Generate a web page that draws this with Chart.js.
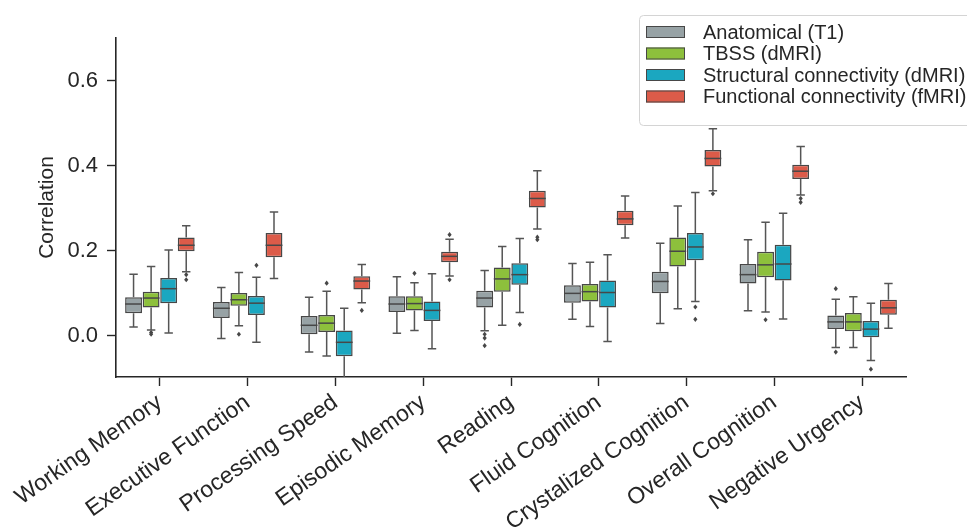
<!DOCTYPE html>
<html>
<head>
<meta charset="utf-8">
<script src="https://cdn.jsdelivr.net/npm/chart.js@4.4.1/dist/chart.umd.min.js"></script>
<style>
  html, body { margin: 0; padding: 0; background: #fff; }
  #wrap { width: 967px; height: 527px; }
</style>
</head>
<body>
<div id="wrap"><canvas id="myChart"></canvas></div>
<script>
const categories = ['Working Memory', 'Executive Function', 'Processing Speed', 'Episodic Memory',
    'Reading', 'Fluid Cognition', 'Crystalized Cognition', 'Overall Cognition', 'Negative Urgency'];

// per category: [lower whisker, q1, median, q3, upper whisker]
const anatomical = [
    [0.021, 0.053, 0.075, 0.091, 0.145],
    [-0.006, 0.042, 0.065, 0.080, 0.114],
    [-0.038, 0.004, 0.025, 0.047, 0.091],
    [0.006, 0.056, 0.075, 0.093, 0.139],
    [0.012, 0.067, 0.089, 0.106, 0.154],
    [0.039, 0.078, 0.100, 0.119, 0.170],
    [0.029, 0.100, 0.128, 0.151, 0.218],
    [0.059, 0.123, 0.144, 0.169, 0.226],
    [-0.027, 0.016, 0.033, 0.048, 0.086]
];
const anatomicalFliers = [[], [], [], [], [0.004, -0.005, -0.023], [], [], [], [0.111, -0.038]];

const tbss = [
    [0.014, 0.067, 0.089, 0.104, 0.163],
    [0.024, 0.071, 0.085, 0.101, 0.149],
    [-0.047, 0.009, 0.030, 0.049, 0.105],
    [0.013, 0.060, 0.076, 0.093, 0.125],
    [0.025, 0.104, 0.134, 0.161, 0.210],
    [0.022, 0.081, 0.104, 0.122, 0.173],
    [0.064, 0.163, 0.199, 0.231, 0.305],
    [0.056, 0.138, 0.167, 0.198, 0.267],
    [-0.027, 0.011, 0.033, 0.054, 0.092]
];
const tbssFliers = [[0.008, 0.004], [0.004], [0.124], [0.147], [], [], [], [0.038], []];

const structural = [
    [0.007, 0.077, 0.111, 0.136, 0.202],
    [-0.015, 0.049, 0.077, 0.094, 0.138],
    [-0.130, -0.048, -0.015, 0.013, 0.065],
    [-0.030, 0.035, 0.060, 0.081, 0.146],
    [0.055, 0.120, 0.144, 0.171, 0.229],
    [-0.013, 0.067, 0.102, 0.130, 0.191],
    [0.081, 0.178, 0.209, 0.242, 0.337],
    [0.040, 0.130, 0.169, 0.214, 0.288],
    [-0.058, -0.003, 0.016, 0.035, 0.077]
];
const structuralFliers = [[], [0.166], [], [], [0.027], [], [0.068, 0.039], [], [-0.078]];

const functional = [
    [0.151, 0.199, 0.213, 0.231, 0.259],
    [0.135, 0.185, 0.213, 0.242, 0.291],
    [0.078, 0.109, 0.129, 0.140, 0.168],
    [0.141, 0.173, 0.187, 0.198, 0.227],
    [0.251, 0.302, 0.323, 0.341, 0.388],
    [0.230, 0.260, 0.275, 0.294, 0.329],
    [0.341, 0.398, 0.417, 0.437, 0.487],
    [0.331, 0.369, 0.387, 0.402, 0.445],
    [0.018, 0.050, 0.066, 0.085, 0.123]
];
const functionalFliers = [[0.144, 0.132], [], [0.060], [0.238, 0.132], [0.232, 0.226], [], [0.334], [0.323, 0.314], []];

const yTicks = [0.0, 0.2, 0.4, 0.6];

const series = [
    { label: 'Anatomical (T1)', color: '#97a2a5', boxes: anatomical, fliers: anatomicalFliers },
    { label: 'TBSS (dMRI)', color: '#8dc03c', boxes: tbss, fliers: tbssFliers },
    { label: 'Structural connectivity (dMRI)', color: '#1ba7c0', boxes: structural, fliers: structuralFliers },
    { label: 'Functional connectivity (fMRI)', color: '#dc5b49', boxes: functional, fliers: functionalFliers }
];

const ink = '#262626';
const edge = '#474747';
const fontFamily = "'Liberation Sans', Arial, sans-serif";

// whiskers, caps, medians and fliers on top of the floating bars
const boxWhiskers = {
    id: 'boxWhiskers',
    afterDatasetsDraw(chart) {
        const { ctx, chartArea, scales: { y } } = chart;
        ctx.save();
        ctx.beginPath();
        ctx.rect(chartArea.left, chartArea.top, chartArea.right - chartArea.left, chartArea.bottom - chartArea.top);
        ctx.clip();
        ctx.fillStyle = edge;
        series.forEach((s, i) => {
            chart.getDatasetMeta(i).data.forEach((bar, j) => {
                const { x, width } = bar.getProps(['x', 'width'], true);
                const [lo, q1, med, q3, hi] = s.boxes[j];
                const half = width / 2;
                const cap = width / 4;
                ctx.strokeStyle = '#555';
                ctx.lineWidth = 1.5;
                ctx.beginPath();
                ctx.moveTo(x, y.getPixelForValue(q3));
                ctx.lineTo(x, y.getPixelForValue(hi));
                ctx.moveTo(x - cap, y.getPixelForValue(hi));
                ctx.lineTo(x + cap, y.getPixelForValue(hi));
                ctx.moveTo(x, y.getPixelForValue(q1));
                ctx.lineTo(x, y.getPixelForValue(lo));
                ctx.moveTo(x - cap, y.getPixelForValue(lo));
                ctx.lineTo(x + cap, y.getPixelForValue(lo));
                ctx.stroke();
                ctx.strokeStyle = edge;
                ctx.beginPath();
                ctx.moveTo(x - half, y.getPixelForValue(med));
                ctx.lineTo(x + half, y.getPixelForValue(med));
                ctx.stroke();
                s.fliers[j].forEach(v => {
                    const py = y.getPixelForValue(v);
                    ctx.beginPath();
                    ctx.moveTo(x, py - 2.6);
                    ctx.lineTo(x + 2.1, py);
                    ctx.lineTo(x, py + 2.6);
                    ctx.lineTo(x - 2.1, py);
                    ctx.closePath();
                    ctx.fill();
                });
            });
        });
        ctx.restore();
    }
};

// legend box in the upper right, running off the canvas edge
const cornerLegend = {
    id: 'cornerLegend',
    afterDraw(chart) {
        const { ctx } = chart;
        const left = 639, top = 15, rowH = 21.5;
        ctx.save();
        ctx.fillStyle = 'rgba(255,255,255,0.85)';
        ctx.strokeStyle = '#d4d4d4';
        ctx.lineWidth = 1;
        ctx.beginPath();
        ctx.roundRect(left + 0.5, top + 0.5, 360, 110, 4);
        ctx.fill();
        ctx.stroke();
        ctx.font = '20px ' + fontFamily;
        ctx.textBaseline = 'middle';
        series.forEach((s, i) => {
            const cy = top + 17 + i * rowH;
            ctx.fillStyle = s.color;
            ctx.fillRect(646, cy - 6, 39, 12);
            ctx.strokeStyle = edge;
            ctx.strokeRect(646.5, cy - 5.5, 38, 11);
            ctx.fillStyle = ink;
            ctx.fillText(s.label, 703, cy + 1);
        });
        ctx.restore();
    }
};

const ctx = document.getElementById('myChart').getContext('2d');
new Chart(ctx, {
    type: 'bar',
    data: {
        labels: categories,
        datasets: series.map(s => ({
            label: s.label,
            data: s.boxes.map(b => [b[1], b[3]]),
            backgroundColor: s.color,
            borderColor: edge,
            borderWidth: 1.5,
            borderSkipped: false,
            categoryPercentage: 0.8,
            barPercentage: 0.96
        }))
    },
    options: {
        responsive: true,
        maintainAspectRatio: false,
        animation: false,
        devicePixelRatio: 1,
        layout: { padding: { top: 38, right: 61, left: 0, bottom: 0 } },
        plugins: {
            legend: { display: false },
            tooltip: { enabled: false }
        },
        scales: {
            x: {
                offset: true,
                grid: { offset: false, drawOnChartArea: false, drawTicks: true, tickLength: 9, color: ink, tickWidth: 1.4 },
                border: { display: true, color: ink, width: 1.6 },
                ticks: {
                    autoSkip: false,
                    minRotation: 35,
                    maxRotation: 35,
                    padding: 3,
                    color: ink,
                    font: { family: fontFamily, size: 23 }
                },
                afterFit(scale) { scale.height = 150; }
            },
            y: {
                min: -0.0965,
                max: 0.70,
                grid: { drawOnChartArea: false, drawTicks: true, tickLength: 9, color: ink, tickWidth: 1.4 },
                border: { display: true, color: ink, width: 1.6 },
                ticks: {
                    padding: 9,
                    color: ink,
                    font: { family: fontFamily, size: 22 },
                    callback: v => v.toFixed(1)
                },
                afterBuildTicks(scale) { scale.ticks = yTicks.map(v => ({ value: v })); },
                title: {
                    display: true,
                    text: 'Correlation',
                    color: ink,
                    padding: { top: 35, bottom: 0 },
                    font: { family: fontFamily, size: 21 }
                },
                afterFit(scale) { scale.width = 116; }
            }
        }
    },
    plugins: [boxWhiskers, cornerLegend]
});
</script>
</body>
</html>
